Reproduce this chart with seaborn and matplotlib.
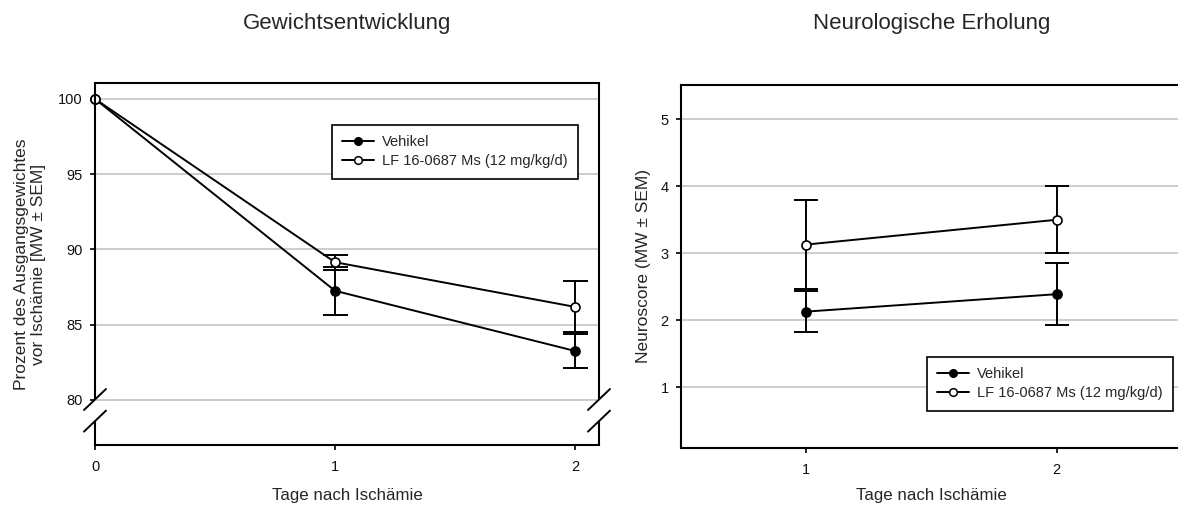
import matplotlib
matplotlib.use("Agg")
import matplotlib.pyplot as plt
from matplotlib.lines import Line2D
import seaborn as sns
import numpy as np

# Body weight (% of pre-ischaemia weight), mean and SEM per day
days_weight = [0, 1, 2]
vehikel_weight = [100.0, 87.25, 83.25]
vehikel_weight_sem = [0.0, 1.58, 1.15]
lf_weight = [100.0, 89.15, 86.18]
lf_weight_sem = [0.0, 0.50, 1.69]

# Neuroscore, mean and SEM per day
days_score = [1, 2]
vehikel_score = [2.13, 2.39]
vehikel_score_sem = [0.30, 0.46]
lf_score = [3.13, 3.50]
lf_score_sem = [0.67, 0.50]

series_names = ["Vehikel", "LF 16-0687 Ms (12 mg/kg/d)"]
weight_ticks = [80, 85, 90, 95, 100]
score_ticks = [1, 2, 3, 4, 5]

sns.set_style("white")
plt.rcParams["font.family"] = ["Liberation Sans", "DejaVu Sans"]

fig = plt.figure(figsize=(11.78, 5.08), dpi=100)
ax_w = fig.add_axes([95 / 1178, 63 / 508, 504 / 1178, 362 / 508])
ax_n = fig.add_axes([681 / 1178, 60.3 / 508, 501 / 1178, 362.7 / 508])

LW = 1.4
GRID = "#c4c4c4"


def draw_series(ax, x, y, sem, face, label, capsize):
    x = np.asarray(x, float)
    y = np.asarray(y, float)
    sem = np.asarray(sem, float)
    m = sem > 0
    ax.errorbar(x[m], y[m], yerr=sem[m], fmt="none", ecolor="black",
                elinewidth=LW, capsize=capsize, capthick=LW, zorder=3)
    sns.lineplot(x=x, y=y, ax=ax, color="black", linewidth=LW, marker="o",
                 markersize=6.5, markerfacecolor=face, markeredgecolor="black",
                 markeredgewidth=1.2, clip_on=False, zorder=4, label=label,
                 legend=False)


def style_axes(ax):
    ax.set_axisbelow(True)
    ax.yaxis.grid(True, color=GRID, linewidth=1.2)
    ax.xaxis.grid(False)
    for s in ax.spines.values():
        s.set_color("black")
        s.set_linewidth(1.5)
    ax.tick_params(axis="both", direction="out", length=3.8, width=1.2,
                   color="black", labelsize=10.5, labelcolor="#111111")
    ax.tick_params(axis="x", pad=7)
    ax.tick_params(axis="y", pad=5)
    ax.tick_params(left=True, bottom=True, right=False, top=False)


def add_legend(ax, anchor):
    handles = [
        Line2D([], [], color="black", linewidth=LW, marker="o", markersize=5.5,
               markerfacecolor="black", markeredgecolor="black"),
        Line2D([], [], color="black", linewidth=LW, marker="o", markersize=5.5,
               markerfacecolor="white", markeredgecolor="black",
               markeredgewidth=1.1),
    ]
    leg = ax.legend(handles, series_names, loc="upper left",
                    bbox_to_anchor=anchor, borderaxespad=0, frameon=True,
                    fancybox=False, fontsize=10.5, handlelength=2.2,
                    handletextpad=0.55, labelspacing=0.36, borderpad=0.7,
                    framealpha=1)
    leg.get_frame().set_edgecolor("black")
    leg.get_frame().set_linewidth(1.2)
    return leg


# ---- left panel: body weight ----
ax = ax_w
draw_series(ax, days_weight, vehikel_weight, vehikel_weight_sem, "black", series_names[0], 9)
draw_series(ax, days_weight, lf_weight, lf_weight_sem, "white", series_names[1], 9)
ax.set_xlim(0, 2.1)
ax.set_ylim(77.0, 101.06)
ax.set_xticks(days_weight)
ax.set_yticks(weight_ticks)
style_axes(ax)
ax.spines["left"].set_visible(False)
ax.spines["right"].set_visible(False)

# broken y axis: spines with a gap and double slashes on both sides
low, high = 0.066, 0.1257
for xs in (0.0, 1.0):
    for y0, y1 in ((0.0, low), (high, 1.0)):
        ax.plot([xs, xs], [y0, y1], transform=ax.transAxes, color="black",
                linewidth=1.5, clip_on=False, solid_capstyle="butt", zorder=5)
    for yc in (low, high):
        ax.plot([xs - 0.0218, xs + 0.0218], [yc - 0.029, yc + 0.029],
                transform=ax.transAxes, color="black", linewidth=1.4,
                clip_on=False, zorder=5)

ax.set_title("Gewichtsentwicklung", fontsize=16, pad=39)
ax.set_xlabel("Tage nach Ischämie", fontsize=12.2)
ax.set_ylabel("Prozent des Ausgangsgewichtes\nvor Ischämie [MW ± SEM]",
              fontsize=12.5, linespacing=1.2)
ax.xaxis.set_label_coords(0.5, -0.118)
ax.yaxis.set_label_coords(-0.097, 0.5)
add_legend(ax, (0.470, 0.884))

# ---- right panel: neuroscore ----
ax = ax_n
draw_series(ax, days_score, vehikel_score, vehikel_score_sem, "black", series_names[0], 8.5)
draw_series(ax, days_score, lf_score, lf_score_sem, "white", series_names[1], 8.5)
ax.set_xlim(0.5, 2.5)
ax.set_ylim(0.1, 5.51)
ax.set_xticks(days_score)
ax.set_yticks(score_ticks)
style_axes(ax)
ax.set_title("Neurologische Erholung", fontsize=16, pad=40.5)
ax.set_xlabel("Tage nach Ischämie", fontsize=12.2)
ax.set_ylabel("Neuroscore (MW ± SEM)", fontsize=12.5)
ax.xaxis.set_label_coords(0.5, -0.111)
ax.yaxis.set_label_coords(-0.06, 0.5)
add_legend(ax, (0.491, 0.250))

fig.savefig("out.png", dpi=100)
